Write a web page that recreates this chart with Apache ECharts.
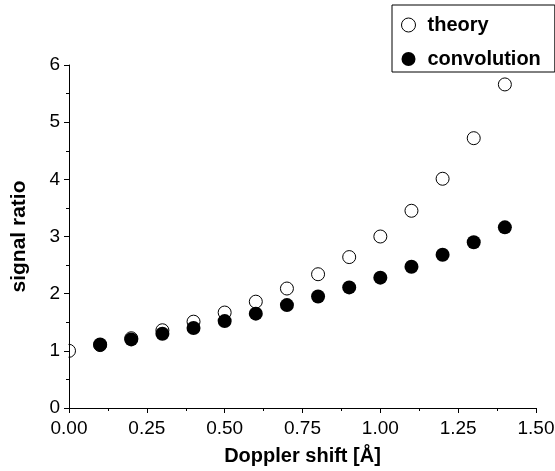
<!DOCTYPE html>
<html>
<head>
<meta charset="utf-8">
<script src="https://cdn.jsdelivr.net/npm/echarts@6/dist/echarts.min.js"></script>
<style>
  html, body { margin: 0; padding: 0; background: #fff; }
  #chart { width: 555px; height: 471px; }
</style>
</head>
<body>
<div id="chart"></div>
<script>
// Doppler shift (Å) and the two signal-ratio series
const shifts = [0.0, 0.1, 0.2, 0.3, 0.4, 0.5, 0.6, 0.7, 0.8, 0.9, 1.0, 1.1, 1.2, 1.3, 1.4];
const theory = [1.00, 1.10, 1.22, 1.36, 1.51, 1.67, 1.86, 2.09, 2.34, 2.64, 3.00, 3.45, 4.01, 4.72, 5.66];
const convolutionShifts = [0.1, 0.2, 0.3, 0.4, 0.5, 0.6, 0.7, 0.8, 0.9, 1.0, 1.1, 1.2, 1.3, 1.4];
const convolution = [1.11, 1.20, 1.30, 1.40, 1.52, 1.65, 1.80, 1.95, 2.11, 2.28, 2.47, 2.68, 2.90, 3.16];

const pairs = (xs, ys) => xs.map((x, i) => [x, ys[i]]);

const FONT = 'Liberation Sans, Arial, sans-serif';
const GRID = { left: 69, right: 19, top: 65, bottom: 63 };
const chart = echarts.init(document.getElementById('chart'), null, { renderer: 'canvas' });

chart.setOption({
  animation: false,
  backgroundColor: '#fff',
  grid: Object.assign({ containLabel: false, outerBoundsMode: 'none' }, GRID),
  legend: {
    orient: 'vertical',
    left: 392,
    top: 5,
    padding: [10, 14, 3, 9],
    itemGap: 14,
    itemWidth: 14,
    itemHeight: 14,
    borderColor: '#000',
    borderWidth: 1,
    textStyle: { fontFamily: FONT, fontWeight: 'bold', fontSize: 20, color: '#000', padding: [0, 0, 0, 7] },
    data: [
      { name: 'theory', icon: 'circle', itemStyle: { color: '#fff', borderColor: '#000', borderWidth: 1 } },
      { name: 'convolution', icon: 'circle', itemStyle: { color: '#000' } }
    ]
  },
  xAxis: {
    type: 'value',
    min: 0, max: 1.5, interval: 0.25,
    z: 10,
    name: 'Doppler shift [Å]',
    nameLocation: 'middle',
    nameGap: 38,
    nameTextStyle: { fontFamily: FONT, fontWeight: 'bold', fontSize: 20, color: '#000' },
    axisLine: { show: true, lineStyle: { color: '#000', width: 1 } },
    axisTick: { show: true, inside: false, length: 5, lineStyle: { color: '#000' } },
    minorTick: { show: true, splitNumber: 2, length: 3, lineStyle: { color: '#000' } },
    splitLine: { show: false },
    axisLabel: {
      fontFamily: FONT, fontSize: 19, color: '#000', margin: 11,
      formatter: v => v.toFixed(2)
    }
  },
  yAxis: {
    type: 'value',
    min: 0, max: 6, interval: 1,
    z: 10,
    name: 'signal ratio',
    nameLocation: 'middle',
    nameGap: 39,
    nameRotate: 90,
    nameTextStyle: { fontFamily: FONT, fontWeight: 'bold', fontSize: 21, color: '#000' },
    axisLine: { show: true, lineStyle: { color: '#000', width: 1 } },
    axisTick: { show: true, inside: false, length: 5, lineStyle: { color: '#000' } },
    minorTick: { show: true, splitNumber: 2, length: 3, lineStyle: { color: '#000' } },
    splitLine: { show: false },
    axisLabel: { fontFamily: FONT, fontSize: 19, color: '#000', margin: 9 }
  },
  // white strip left of the y axis hides marker parts that fall outside the plot area
  graphic: [{
    type: 'rect',
    z: 5,
    shape: { x: GRID.left - 12, y: GRID.top, width: 11.5, height: 471 - GRID.top - GRID.bottom },
    style: { fill: '#fff' },
    silent: true
  }],
  series: [
    {
      name: 'theory',
      type: 'scatter',
      symbol: 'circle',
      symbolSize: 13,
      clip: false,
      itemStyle: { color: '#fff', borderColor: '#000', borderWidth: 1, opacity: 1 },
      data: pairs(shifts, theory),
      z: 2
    },
    {
      name: 'convolution',
      type: 'scatter',
      symbol: 'circle',
      symbolSize: 14,
      itemStyle: { color: '#000', opacity: 1 },
      data: pairs(convolutionShifts, convolution),
      z: 3
    }
  ]
});
</script>
</body>
</html>
